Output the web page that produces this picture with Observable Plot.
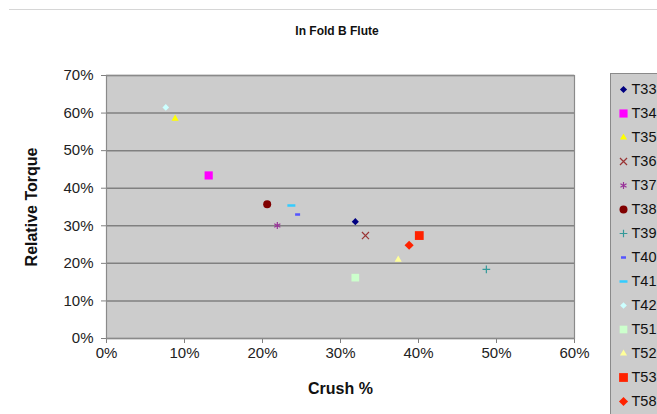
<!DOCTYPE html>
<html>
<head>
<meta charset="utf-8">
<script src="https://cdn.jsdelivr.net/npm/d3@7"></script>
<script src="https://cdn.jsdelivr.net/npm/@observablehq/plot@0.6"></script>
<style>
  body { margin: 0; background: #fff; font-family: "Liberation Sans", Arial, sans-serif; }
  #wrap { position: relative; width: 657px; height: 414px; overflow: hidden; background: #fff; }
  #rule { position: absolute; left: 9px; top: 9px; width: 660px; height: 0; border-top: 1px solid #d6d6d6; }
  #title { position: absolute; left: 0; width: 674px; top: 24px; text-align: center; font-weight: bold; font-size: 12px; color: #111; }
  #chart { position: absolute; left: 0; top: 0; width: 657px; }
  #legend { position: absolute; left: 610px; top: 73px; width: 80px; height: 360px; }
  #legend svg, #chart svg { max-width: none !important; }
  g[aria-label="x-axis tick"], g[aria-label="y-axis tick"] { stroke: #808080; }
  g[aria-label="x-axis tick label"], g[aria-label="y-axis tick label"] { fill: #222; }
  g[aria-label="x-axis label"], g[aria-label="y-axis label"] { font-weight: bold; font-size: 16px; fill: #111; }
</style>
</head>
<body>
<div id="wrap">
  <div id="rule"></div>
  <div id="title">In Fold B Flute</div>
  <div id="chart"></div>
  <div id="legend"></div>
</div>
<script>
// ---- data ----
const series = ["T33","T34","T35","T36","T37","T38","T39","T40","T41","T42","T51","T52","T53","T58"];
const crush  = [0.319, 0.131, 0.088, 0.332, 0.219, 0.206, 0.487, 0.245, 0.237, 0.076, 0.319, 0.374, 0.401, 0.388];
const torque = [0.311, 0.434, 0.585, 0.274, 0.301, 0.357, 0.184, 0.330, 0.354, 0.615, 0.162, 0.210, 0.274, 0.248];
const xTicks = [0, 0.1, 0.2, 0.3, 0.4, 0.5, 0.6];
const yTicks = [0, 0.1, 0.2, 0.3, 0.4, 0.5, 0.6, 0.7];
const title = "In Fold B Flute";
const xLabel = "Crush %";
const yLabel = "Relative Torque";

// ---- styles ----
const dash = (w, h) => ({ draw(ctx) { ctx.rect(-w / 2, -h / 2, w, h); } });
const looks = {
  T33: { symbol: "diamond2",  color: "#000080", r: 3.2 },
  T34: { symbol: "square2",   color: "#ff00ff", r: 5.2 },
  T35: { symbol: "triangle2", color: "#ffff00", r: 3.4 },
  T36: { symbol: "times",     color: "#993333", r: 3.3, line: true },
  T37: { symbol: "asterisk",  color: "#993399", r: 3.3, line: true },
  T38: { symbol: "circle",    color: "#800000", r: 4 },
  T39: { symbol: "plus",      color: "#339999", r: 2.6, line: true },
  T40: { symbol: dash(5, 2.5), color: "#5555ff", r: 3 },
  T41: { symbol: dash(8, 2.5), color: "#33ccff", r: 3 },
  T42: { symbol: "diamond2",  color: "#ccffff", r: 3 },
  T51: { symbol: "square2",   color: "#ccffcc", r: 4.9 },
  T52: { symbol: "triangle2", color: "#ffff99", r: 3.4 },
  T53: { symbol: "square2",   color: "#ff2200", r: 5.6 },
  T58: { symbol: "diamond2",  color: "#ff2200", r: 4.1 }
};

const rows = series.map((s, i) => ({ s, x: crush[i], y: torque[i] }));

function dotMarks(data, pos) {
  return series.map(s => {
    const L = looks[s];
    return Plot.dot(data.filter(d => d.s === s), {
      ...pos,
      symbol: L.symbol,
      r: L.r,
      fill: L.line ? "none" : L.color,
      stroke: L.line ? L.color : "none",
      strokeWidth: 1.2
    });
  });
}

const fmt = d3.format(".0%");

const chart = Plot.plot({
  width: 657,
  height: 414,
  marginLeft: 106,
  marginRight: 83,
  marginTop: 75,
  marginBottom: 76,
  style: { fontFamily: "'Liberation Sans', Arial, sans-serif", fontSize: "15px", background: "transparent", color: "#222" },
  x: { domain: [0, 0.6], ticks: xTicks, tickFormat: fmt, tickSize: 5, tickPadding: 4,
       label: xLabel, labelAnchor: "center", labelOffset: 55, labelArrow: "none" },
  y: { domain: [0, 0.7], ticks: yTicks, tickFormat: fmt, tickSize: 5, tickPadding: 8,
       label: yLabel, labelAnchor: "center", labelOffset: 81, labelArrow: "none" },
  marks: [
    Plot.frame({ fill: "#cccccc", stroke: "none" }),
    Plot.gridY(yTicks, { stroke: "#808080", strokeOpacity: 1, strokeWidth: 1.5 }),
    ...dotMarks(rows, { x: "x", y: "y" }),
    Plot.frame({ stroke: "#8a8a8a", strokeWidth: 1.2 })
  ]
});
document.getElementById("chart").append(chart);

const legend = Plot.plot({
  width: 80,
  height: 360,
  marginTop: 13,
  marginBottom: 31,
  marginLeft: 0,
  marginRight: 0,
  style: { fontFamily: "'Liberation Sans', Arial, sans-serif", fontSize: "14px", background: "#cccccc", border: "1px solid #8a8a8a", color: "#111" },
  y: { type: "point", domain: series, padding: 0, axis: null },
  marks: [
    ...dotMarks(series.map(s => ({ s })), { y: "s", frameAnchor: "left", dx: 12 }),
    Plot.text(series, { y: d => d, text: d => d, frameAnchor: "left", dx: 20, textAnchor: "start", fill: "#111", fontSize: 14.5 })
  ]
});
document.getElementById("legend").append(legend);
</script>
</body>
</html>
